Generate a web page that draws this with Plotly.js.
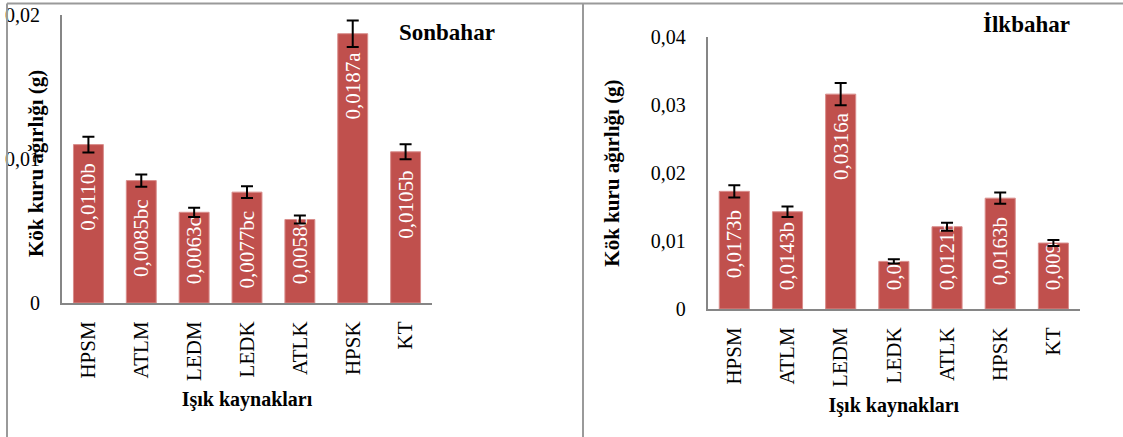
<!DOCTYPE html>
<html>
<head>
<meta charset="utf-8">
<script src="https://cdn.plot.ly/plotly-3.0.1.min.js"></script>
<style>
  html, body { margin: 0; padding: 0; background: #fff; }
  #chart { width: 1123px; height: 437px; }
</style>
</head>
<body>
<div id="chart"></div>
<script>
// ---- data ----
var categories = ['HPSM', 'ATLM', 'LEDM', 'LEDK', 'ATLK', 'HPSK', 'KT'];

var sonbaharValues = [0.0110, 0.0085, 0.0063, 0.0077, 0.0058, 0.0187, 0.0105];
var sonbaharErrors = [0.00055, 0.00043, 0.00032, 0.00040, 0.00028, 0.00092, 0.00052];
var sonbaharLabels = ['0,0110b', '0,0085bc', '0,0063c', '0,0077bc', '0,0058c', '0,0187a', '0,0105b'];

var ilkbaharValues = [0.0173, 0.0143, 0.0316, 0.0070, 0.0121, 0.0163, 0.0097];
var ilkbaharErrors = [0.00090, 0.00078, 0.00165, 0.00030, 0.00060, 0.00083, 0.00045];
var ilkbaharLabels = ['0,0173b', '0,0143b', '0,0316a', '0,0070c', '0,0121b', '0,0163b', '0,0097c'];

var yTitle = 'Kök kuru ağırlığı (g)';
var xTitle = 'Işık kaynakları';
var panelTitles = ['Sonbahar', 'İlkbahar'];
var axisMax = [0.02, 0.04];

// ---- styling ----
var FONT = 'Liberation Serif, Times New Roman, serif';
var BAR = '#C0504D';
var AXIS = '#868686';
var PAD = '\u00a0\u00a0\u00a0';

function pad(s) { return PAD + s + PAD; }

function panelTraces(values, errors, labels, max, xa, ya) {
  // labels that fit at the top of the bar are anchored at the end,
  // labels of short bars start near the base (as in the original chart)
  var endText = [], startText = [];
  for (var i = 0; i < values.length; i++) {
    var shortBar = values[i] / max < 0.37;
    endText.push(shortBar ? '' : pad(labels[i]));
    startText.push(shortBar ? pad(labels[i]) : '');
  }
  var common = {
    type: 'bar',
    x: categories,
    y: values,
    xaxis: xa,
    yaxis: ya,
    textposition: 'inside',
    textangle: -90,
    constraintext: 'none',
    insidetextfont: { family: FONT, size: 21, color: '#ffffff' },
    hoverinfo: 'x+y',
    showlegend: false
  };
  var a = Object.assign({}, common, {
    text: endText,
    insidetextanchor: 'end',
    marker: { color: BAR, line: { color: '#D98E8C', width: 1 } }
  });
  var b = Object.assign({}, common, {
    text: startText,
    insidetextanchor: 'start',
    marker: { color: 'rgba(0,0,0,0)', line: { width: 0 } },
    error_y: { type: 'data', array: errors, visible: true, color: '#000000', thickness: 2, width: 6 }
  });
  return [a, b];
}

var data = []
  .concat(panelTraces(sonbaharValues, sonbaharErrors, sonbaharLabels, axisMax[0], 'x', 'y'))
  .concat(panelTraces(ilkbaharValues, ilkbaharErrors, ilkbaharLabels, axisMax[1], 'x2', 'y2'));

var titleFont = { family: FONT, size: 21, color: '#000', weight: 700 };

function xAxis(domain, anchor) {
  return {
    domain: domain,
    anchor: anchor,
    type: 'category',
    showline: true,
    linecolor: AXIS,
    linewidth: 2,
    ticks: '',
    tickangle: -90,
    ticklabelstandoff: 8,
    tickfont: { family: FONT, size: 21, color: '#000' },
    showgrid: false,
    zeroline: false,
    fixedrange: true,
    title: { text: xTitle, font: { family: FONT, size: 20, color: '#000', weight: 700 }, standoff: 12 }
  };
}
function yAxis(domain, anchor, max, title) {
  var ax = {
    domain: domain,
    anchor: anchor,
    range: [0, max],
    dtick: 0.01,
    showline: true,
    linecolor: AXIS,
    linewidth: 2,
    ticks: '',
    ticklabelstandoff: 16,
    tickfont: { family: FONT, size: 20, color: '#000' },
    showgrid: false,
    zeroline: false,
    fixedrange: true
  };
  if (title) ax.title = title;
  return ax;
}

var layout = {
  width: 1123,
  height: 437,
  margin: { l: 0, r: 0, t: 0, b: 0 },
  paper_bgcolor: '#ffffff',
  plot_bgcolor: '#ffffff',
  barmode: 'overlay',
  bargap: 0.434,
  separators: ', ',
  font: { family: FONT, color: '#000' },
  xaxis: xAxis([0.0552, 0.3847], 'y'),
  // left panel: the y title overlaps the tick labels in the original, drawn as an annotation below
  yaxis: yAxis([0.3066, 0.9657], 'x', axisMax[0], null),
  xaxis2: xAxis([0.6302, 0.9617], 'y2'),
  yaxis2: yAxis([0.2929, 0.9153], 'x2', axisMax[1], { text: yTitle, font: titleFont, standoff: 25 }),
  annotations: [
    { text: yTitle, xref: 'paper', yref: 'paper', x: 36 / 1123, y: 1 - 164 / 437,
      xanchor: 'center', yanchor: 'middle', textangle: -90, showarrow: false, font: titleFont },
    { text: panelTitles[0], xref: 'paper', yref: 'paper', x: 497 / 1123, y: 1 - 33 / 437,
      xanchor: 'right', yanchor: 'middle', showarrow: false,
      font: { family: FONT, size: 23, color: '#000', weight: 700 } },
    { text: panelTitles[1], xref: 'paper', yref: 'paper', x: 1072 / 1123, y: 1 - 24 / 437,
      xanchor: 'right', yanchor: 'middle', showarrow: false,
      font: { family: FONT, size: 23, color: '#000', weight: 700 } }
  ],
  shapes: [
    { type: 'line', xref: 'paper', yref: 'paper', x0: 7 / 1123, x1: 1, y0: 1 - 3.5 / 437, y1: 1 - 3.5 / 437,
      line: { color: '#9a9a9a', width: 2 } },
    { type: 'line', xref: 'paper', yref: 'paper', x0: 7 / 1123, x1: 7 / 1123, y0: 0, y1: 1 - 3.5 / 437,
      line: { color: '#9a9a9a', width: 2 } },
    { type: 'line', xref: 'paper', yref: 'paper', x0: 583 / 1123, x1: 583 / 1123, y0: 0, y1: 1 - 3.5 / 437,
      line: { color: '#9a9a9a', width: 2 } }
  ]
};

Plotly.newPlot('chart', data, layout, { staticPlot: true, displayModeBar: false });
</script>
</body>
</html>
